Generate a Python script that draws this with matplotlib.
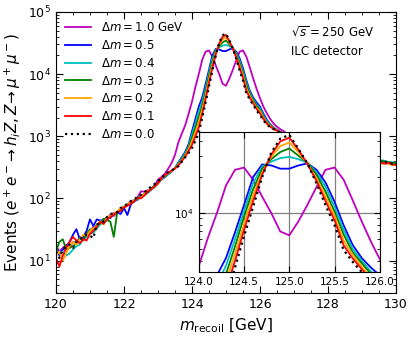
import matplotlib
matplotlib.use('Agg')
import matplotlib.pyplot as plt
import numpy as np
from matplotlib.ticker import MultipleLocator, LogLocator, NullFormatter

plt.rcParams['xtick.direction'] = 'in'
plt.rcParams['ytick.direction'] = 'in'
plt.rcParams['xtick.top'] = True
plt.rcParams['ytick.right'] = True

# recoil mass grid (GeV): 0.1 GeV bins up to 126.9, coarser where hidden by the inset
m_recoil = np.concatenate([np.round(np.arange(120.0, 126.95, 0.1), 1),
                           [127.0, 127.5, 128.0, 128.5, 129.0,
                            129.5, 129.6, 129.7, 129.8, 129.9, 130.0]])

# event counts
# segments: 120.0-123.0 | 123.1-123.9 | 124.0-126.0 | 126.1-126.9 | 127-129 | 129.5-130
ev_dm10 = [17, 14, 16, 18, 16, 20, 19, 24, 22, 27, 29, 35, 33, 41, 40, 47, 55, 52, 60, 66,
           70, 78, 92, 88, 105, 130, 128, 135, 140, 160, 200,
           220, 250, 300, 370, 500, 800, 1100, 1500, 2300,
           3600, 6200, 10000, 17000, 23000, 24000, 19000, 13700, 10000, 7000, 6500,
           8500, 11700, 16500, 23000, 24000, 19000, 12800, 8500, 5800, 4100,
           3000, 2350, 1900, 1600, 1420, 1300, 1200, 1100, 1020,
           950, 720, 580, 490, 435,
           390, 380, 395, 375, 370, 365]
ev_dm05 = [18, 12, 15, 17, 20, 26, 32, 22, 24, 30, 46, 36, 46, 44, 45, 50, 48, 58, 60, 56,
           70, 54, 80, 90, 95, 108, 115, 125, 140, 160, 180,
           200, 220, 245, 270, 310, 380, 460, 560, 750,
           1200, 1900, 3000, 4200, 6900, 11700, 20000, 25500, 25000, 23500, 23500,
           25000, 26000, 23000, 18000, 12400, 7900, 5400, 4200, 3500, 3000,
           2300, 1850, 1550, 1380, 1270, 1180, 1100, 1030, 970,
           915, 705, 570, 485, 430,
           385, 390, 380, 370, 365, 360]
ev_dm04 = [15, 13, 14, 12, 13, 15, 17, 18, 22, 24, 27, 28, 33, 38, 42, 45, 50, 55, 60, 66,
           72, 78, 85, 90, 97, 105, 112, 122, 138, 150, 172,
           202, 225, 248, 273, 308, 370, 442, 535, 700,
           1070, 1620, 2510, 3630, 6030, 10470, 17800, 24500, 26900, 28800, 29500,
           28200, 26300, 21900, 16600, 11200, 7240, 5010, 3980, 3240, 2820,
           2150, 1780, 1520, 1360, 1260, 1180, 1100, 1040, 980,
           920, 710, 575, 490, 440,
           400, 410, 395, 385, 380, 375]
ev_dm03 = [14, 20, 22, 15, 16, 17, 19, 23, 21, 27, 32, 30, 38, 40, 47, 45, 42, 24, 60, 66,
           74, 80, 83, 95, 97, 110, 118, 126, 145, 160, 178,
           205, 230, 252, 276, 306, 358, 425, 510, 660,
           933, 1380, 2040, 3090, 5250, 9330, 15800, 23400, 28200, 32400, 34700,
           30200, 26300, 20900, 15100, 10200, 6610, 4680, 3800, 3090, 2630,
           2050, 1700, 1490, 1340, 1250, 1170, 1100, 1040, 975,
           915, 710, 575, 490, 435,
           395, 400, 390, 380, 375, 370]
ev_dm02 = [12, 14, 10, 13, 17, 20, 18, 22, 26, 25, 30, 33, 36, 43, 38, 50, 52, 57, 62, 70,
           73, 78, 88, 92, 100, 104, 118, 130, 140, 155, 172,
           210, 232, 255, 278, 304, 350, 410, 490, 620,
           832, 1175, 1700, 2690, 4570, 8130, 14100, 21900, 29500, 36300, 38900,
           32400, 25700, 19500, 13800, 9550, 5890, 4470, 3550, 2880, 2510,
           1980, 1650, 1460, 1320, 1240, 1160, 1090, 1030, 970,
           910, 705, 570, 480, 430,
           375, 360, 380, 355, 345, 340]
ev_dm01 = [11, 8, 12, 16, 20, 24, 21, 19, 22, 21, 27, 30, 35, 42, 39, 46, 50, 55, 60, 63,
           72, 76, 82, 90, 102, 100, 112, 128, 140, 155, 175,
           210, 235, 260, 282, 302, 340, 400, 470, 580,
           724, 1000, 1380, 2290, 3980, 7240, 12600, 20900, 30900, 39800, 42700,
           33900, 25700, 18600, 12600, 8710, 5370, 4170, 3390, 2750, 2340,
           1900, 1600, 1430, 1310, 1230, 1160, 1090, 1030, 970,
           910, 700, 565, 480, 425,
           380, 370, 360, 375, 350, 345]
ev_dm00 = [14, 11, 15, 17, 18, 16, 20, 22, 24, 26, 25, 23, 38, 40, 42, 50, 56, 58, 60, 70,
           74, 82, 90, 96, 106, 115, 125, 140, 155, 170, 190,
           215, 240, 265, 285, 300, 330, 390, 460, 540,
           650, 850, 1150, 2000, 3500, 6400, 11300, 20000, 32000, 42000, 45000,
           34500, 26000, 17700, 11600, 7900, 4900, 3900, 3200, 2600, 2200,
           1800, 1550, 1400, 1300, 1220, 1150, 1080, 1020, 960,
           900, 700, 570, 485, 430,
           390, 380, 385, 370, 360, 365]

series = [ev_dm10, ev_dm05, ev_dm04, ev_dm03, ev_dm02, ev_dm01, ev_dm00]
labels = [r'$\Delta m = 1.0$ GeV', r'$\Delta m = 0.5$', r'$\Delta m = 0.4$',
          r'$\Delta m = 0.3$', r'$\Delta m = 0.2$', r'$\Delta m = 0.1$',
          r'$\Delta m = 0.0$']
colors = ['m', 'b', 'c', 'g', 'orange', 'r', 'k']
styles = ['-', '-', '-', '-', '-', '-', ':']

fig = plt.figure(figsize=(4.16, 3.38), dpi=100)
ax = fig.add_axes([0.1346, 0.133, 0.8173, 0.8316])

for y, lab, c, ls in zip(series, labels, colors, styles):
    ax.plot(m_recoil, y, color=c, ls=ls, lw=1.3 if ls == '-' else 1.6, label=lab)

ax.set_yscale('log')
ax.set_xlim(120, 130)
ax.set_ylim(3, 1e5)
ax.xaxis.set_major_locator(MultipleLocator(2))
ax.xaxis.set_minor_locator(MultipleLocator(0.5))
ax.yaxis.set_minor_locator(LogLocator(base=10, subs=np.arange(2, 10)))
ax.yaxis.set_minor_formatter(NullFormatter())
ax.tick_params(which='major', length=5, labelsize=9)
ax.tick_params(which='minor', length=2.5)
ax.set_xlabel(r'$m_{\rm recoil}$ [GeV]', fontsize=11)
ax.set_ylabel(r'Events $(e^+e^-\!\to h_i Z, Z\!\to\mu^+\mu^-)$', fontsize=11)

ax.legend(loc='upper left', frameon=False, fontsize=8.5, handlelength=2.2,
          labelspacing=0.4, borderaxespad=0.4)
ax.text(0.69, 0.925, r'$\sqrt{s} = 250$ GeV', transform=ax.transAxes,
        fontsize=8.5, va='center')
ax.text(0.69, 0.858, 'ILC detector', transform=ax.transAxes,
        fontsize=8.5, va='center')

# zoomed inset around the peak
axi = fig.add_axes([0.478, 0.195, 0.435, 0.414])
for y, c, ls in zip(series, colors, styles):
    axi.plot(m_recoil, y, color=c, ls=ls, lw=1.3 if ls == '-' else 1.6)
axi.set_yscale('log')
axi.set_xlim(124.0, 126.0)
axi.set_ylim(3.2e3, 4.75e4)
axi.xaxis.set_major_locator(MultipleLocator(0.5))
axi.yaxis.set_minor_locator(LogLocator(base=10, subs=np.arange(2, 10)))
axi.yaxis.set_minor_formatter(NullFormatter())
axi.grid(True, which='major', color='gray', lw=0.9)
axi.set_axisbelow(True)
axi.tick_params(which='major', length=4, labelsize=7.5)
axi.tick_params(which='minor', length=2)

fig.savefig('out.png', dpi=100)
